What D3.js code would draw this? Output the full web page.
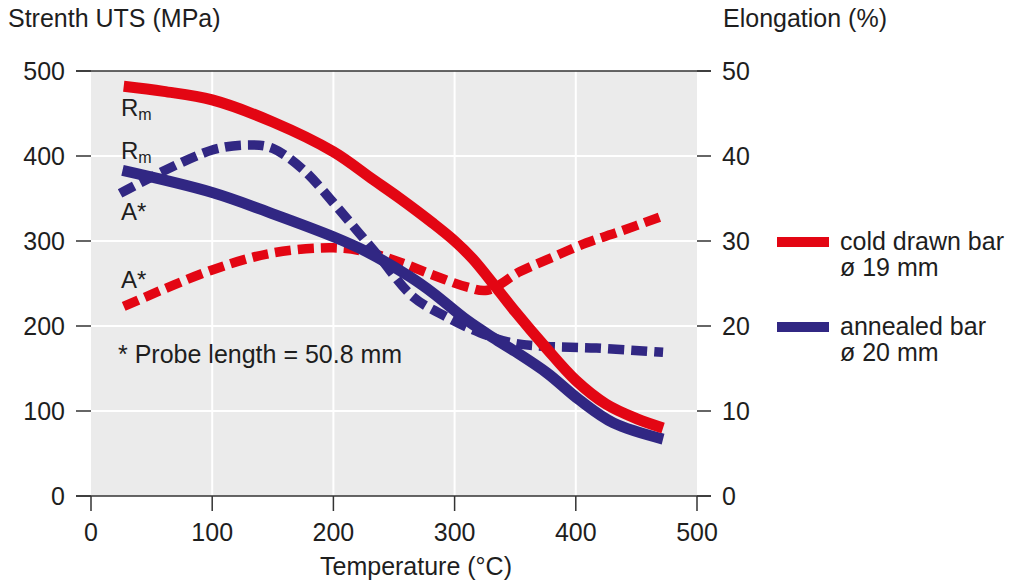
<!DOCTYPE html>
<html>
<head>
<meta charset="utf-8">
<script src="https://cdn.jsdelivr.net/npm/d3@7/dist/d3.min.js"></script>
<style>
  body { margin: 0; background: #fff; }
  text { font-family: "Liberation Sans", Arial, sans-serif; fill: #1e1e1e; }
</style>
</head>
<body>
<div id="chart"></div>
<script>
// temperature (°C) / value pairs
var coldRmT   = [27, 60, 100, 150, 200, 233, 255, 282, 300, 315, 335, 350, 375, 400, 425, 450, 472]
  , coldRm    = [482, 476, 466, 440, 405, 372, 350, 321, 300, 279, 244, 217, 175, 136, 108, 91, 80]
  , annRmT    = [26, 100, 150, 200, 228, 263, 282, 310, 332, 350, 376, 403, 431, 472]
  , annRm     = [383, 357, 332, 305, 287, 258, 239, 207, 186, 170, 145, 113, 86, 67]
  , coldAT    = [27, 100, 150, 200, 228, 255, 282, 310, 327, 354, 381, 409, 436, 469]
  , coldA     = [22.3, 26.6, 28.6, 29.2, 28.7, 27.5, 26.0, 24.6, 24.2, 26.4, 28.1, 29.8, 31.1, 32.8]
  , annAT     = [24, 100, 134, 150, 175, 200, 219, 238, 266, 293, 321, 348, 376, 417, 472]
  , annA      = [35.6, 40.7, 41.3, 40.9, 38.4, 34.5, 31.3, 28.1, 23.4, 21.1, 19.2, 18.0, 17.6, 17.4, 16.9]
  , xTicks    = [0, 100, 200, 300, 400, 500]
  , yTicks    = [0, 100, 200, 300, 400, 500]
  , y2Ticks   = [0, 10, 20, 30, 40, 50]
  , legendItems = [["cold drawn bar", "ø 19 mm"], ["annealed bar", "ø 20 mm"]]
  ;

var red = "#e30613"
  , blue = "#312783"
  , pLeft = 91, pRight = 697, pTop = 71, pBottom = 496
  , fs = 25
  ;

var svg = d3.select("#chart").append("svg")
  .attr("width", 1028)
  .attr("height", 583);

var x = d3.scaleLinear().domain([0, 500]).range([pLeft, pRight])
  , y = d3.scaleLinear().domain([0, 500]).range([pBottom, pTop])
  , y2 = d3.scaleLinear().domain([0, 50]).range([pBottom, pTop])
  ;

// plot background
svg.append("rect")
  .attr("x", pLeft).attr("y", pTop)
  .attr("width", pRight - pLeft).attr("height", pBottom - pTop)
  .attr("fill", "#ebebeb");

// white grid
svg.selectAll(".vgrid").data(xTicks.slice(1, -1)).enter().append("line")
  .attr("x1", function (d) { return x(d); })
  .attr("x2", function (d) { return x(d); })
  .attr("y1", pTop).attr("y2", pBottom)
  .attr("stroke", "#fff").attr("stroke-width", 2);

svg.selectAll(".hgrid").data(yTicks.slice(1, -1)).enter().append("line")
  .attr("y1", function (d) { return y(d); })
  .attr("y2", function (d) { return y(d); })
  .attr("x1", pLeft).attr("x2", pRight)
  .attr("stroke", "#fff").attr("stroke-width", 2);

// top and bottom frame lines
[0, 500].forEach(function (v) {
  svg.append("line")
    .attr("x1", pLeft - 15).attr("x2", pRight + 14)
    .attr("y1", y(v)).attr("y2", y(v))
    .attr("stroke", "#333").attr("stroke-width", 1.5);
});

// left ticks + labels
svg.selectAll(".ltick").data(yTicks).enter().append("line")
  .attr("x1", pLeft - 15).attr("x2", pLeft)
  .attr("y1", function (d) { return y(d); })
  .attr("y2", function (d) { return y(d); })
  .attr("stroke", "#333").attr("stroke-width", 1.5);

svg.selectAll(".llab").data(yTicks).enter().append("text")
  .attr("x", 65)
  .attr("y", function (d) { return y(d) + 9; })
  .attr("text-anchor", "end")
  .attr("font-size", fs)
  .text(function (d) { return d; });

// right ticks + labels
svg.selectAll(".rtick").data(y2Ticks).enter().append("line")
  .attr("x1", pRight).attr("x2", pRight + 14)
  .attr("y1", function (d) { return y2(d); })
  .attr("y2", function (d) { return y2(d); })
  .attr("stroke", "#333").attr("stroke-width", 1.5);

svg.selectAll(".rlab").data(y2Ticks).enter().append("text")
  .attr("x", 722)
  .attr("y", function (d) { return y2(d) + 9; })
  .attr("font-size", fs)
  .text(function (d) { return d; });

// bottom ticks + labels
svg.selectAll(".btick").data(xTicks).enter().append("line")
  .attr("x1", function (d) { return x(d); })
  .attr("x2", function (d) { return x(d); })
  .attr("y1", pBottom).attr("y2", pBottom + 15)
  .attr("stroke", "#333").attr("stroke-width", 1.5);

svg.selectAll(".blab").data(xTicks).enter().append("text")
  .attr("x", function (d) { return x(d); })
  .attr("y", 541)
  .attr("text-anchor", "middle")
  .attr("font-size", fs)
  .text(function (d) { return d; });

// axis titles
svg.append("text").attr("x", 8).attr("y", 27).attr("font-size", fs).text("Strenth UTS (MPa)");
svg.append("text").attr("x", 723).attr("y", 27).attr("font-size", fs).text("Elongation (%)");
svg.append("text").attr("x", 416).attr("y", 575).attr("text-anchor", "middle")
  .attr("font-size", fs).text("Temperature (°C)");

// curves
function drawCurve(ts, vs, scale, color, dashed) {
  var pts = ts.map(function (t, i) { return [x(t), scale(vs[i])]; });
  var line = d3.line().curve(d3.curveCatmullRom.alpha(0.5));
  svg.append("path")
    .attr("d", line(pts))
    .attr("fill", "none")
    .attr("stroke", color)
    .attr("stroke-width", dashed ? 9.5 : 11)
    .attr("stroke-dasharray", dashed ? "16,7" : null);
}

drawCurve(coldAT, coldA, y2, red, true);
drawCurve(annAT, annA, y2, blue, true);
drawCurve(annRmT, annRm, y, blue, false);
drawCurve(coldRmT, coldRm, y, red, false);

// curve labels
function label(xp, yp, main, sub) {
  var t = svg.append("text").attr("x", xp).attr("y", yp).attr("font-size", 24);
  t.append("tspan").text(main);
  if (sub) t.append("tspan").attr("font-size", 16).attr("dy", 4).text(sub);
}
label(121, 116, "R", "m");
label(121, 159, "R", "m");
label(121, 220, "A*");
label(121, 288, "A*");

svg.append("text").attr("x", 118).attr("y", 363).attr("font-size", fs)
  .text("* Probe length = 50.8 mm");

// legend
var lg = svg.selectAll(".legend").data(legendItems).enter().append("g")
  .attr("transform", function (d, i) { return "translate(777," + (242 + i * 85) + ")"; });

lg.append("line")
  .attr("x1", 0).attr("x2", 52).attr("y1", 0).attr("y2", 0)
  .attr("stroke", function (d, i) { return i === 0 ? red : blue; })
  .attr("stroke-width", 10);

lg.append("text").attr("x", 63).attr("y", 8).attr("font-size", fs)
  .text(function (d) { return d[0]; });
lg.append("text").attr("x", 63).attr("y", 34).attr("font-size", fs)
  .text(function (d) { return d[1]; });
</script>
</body>
</html>
